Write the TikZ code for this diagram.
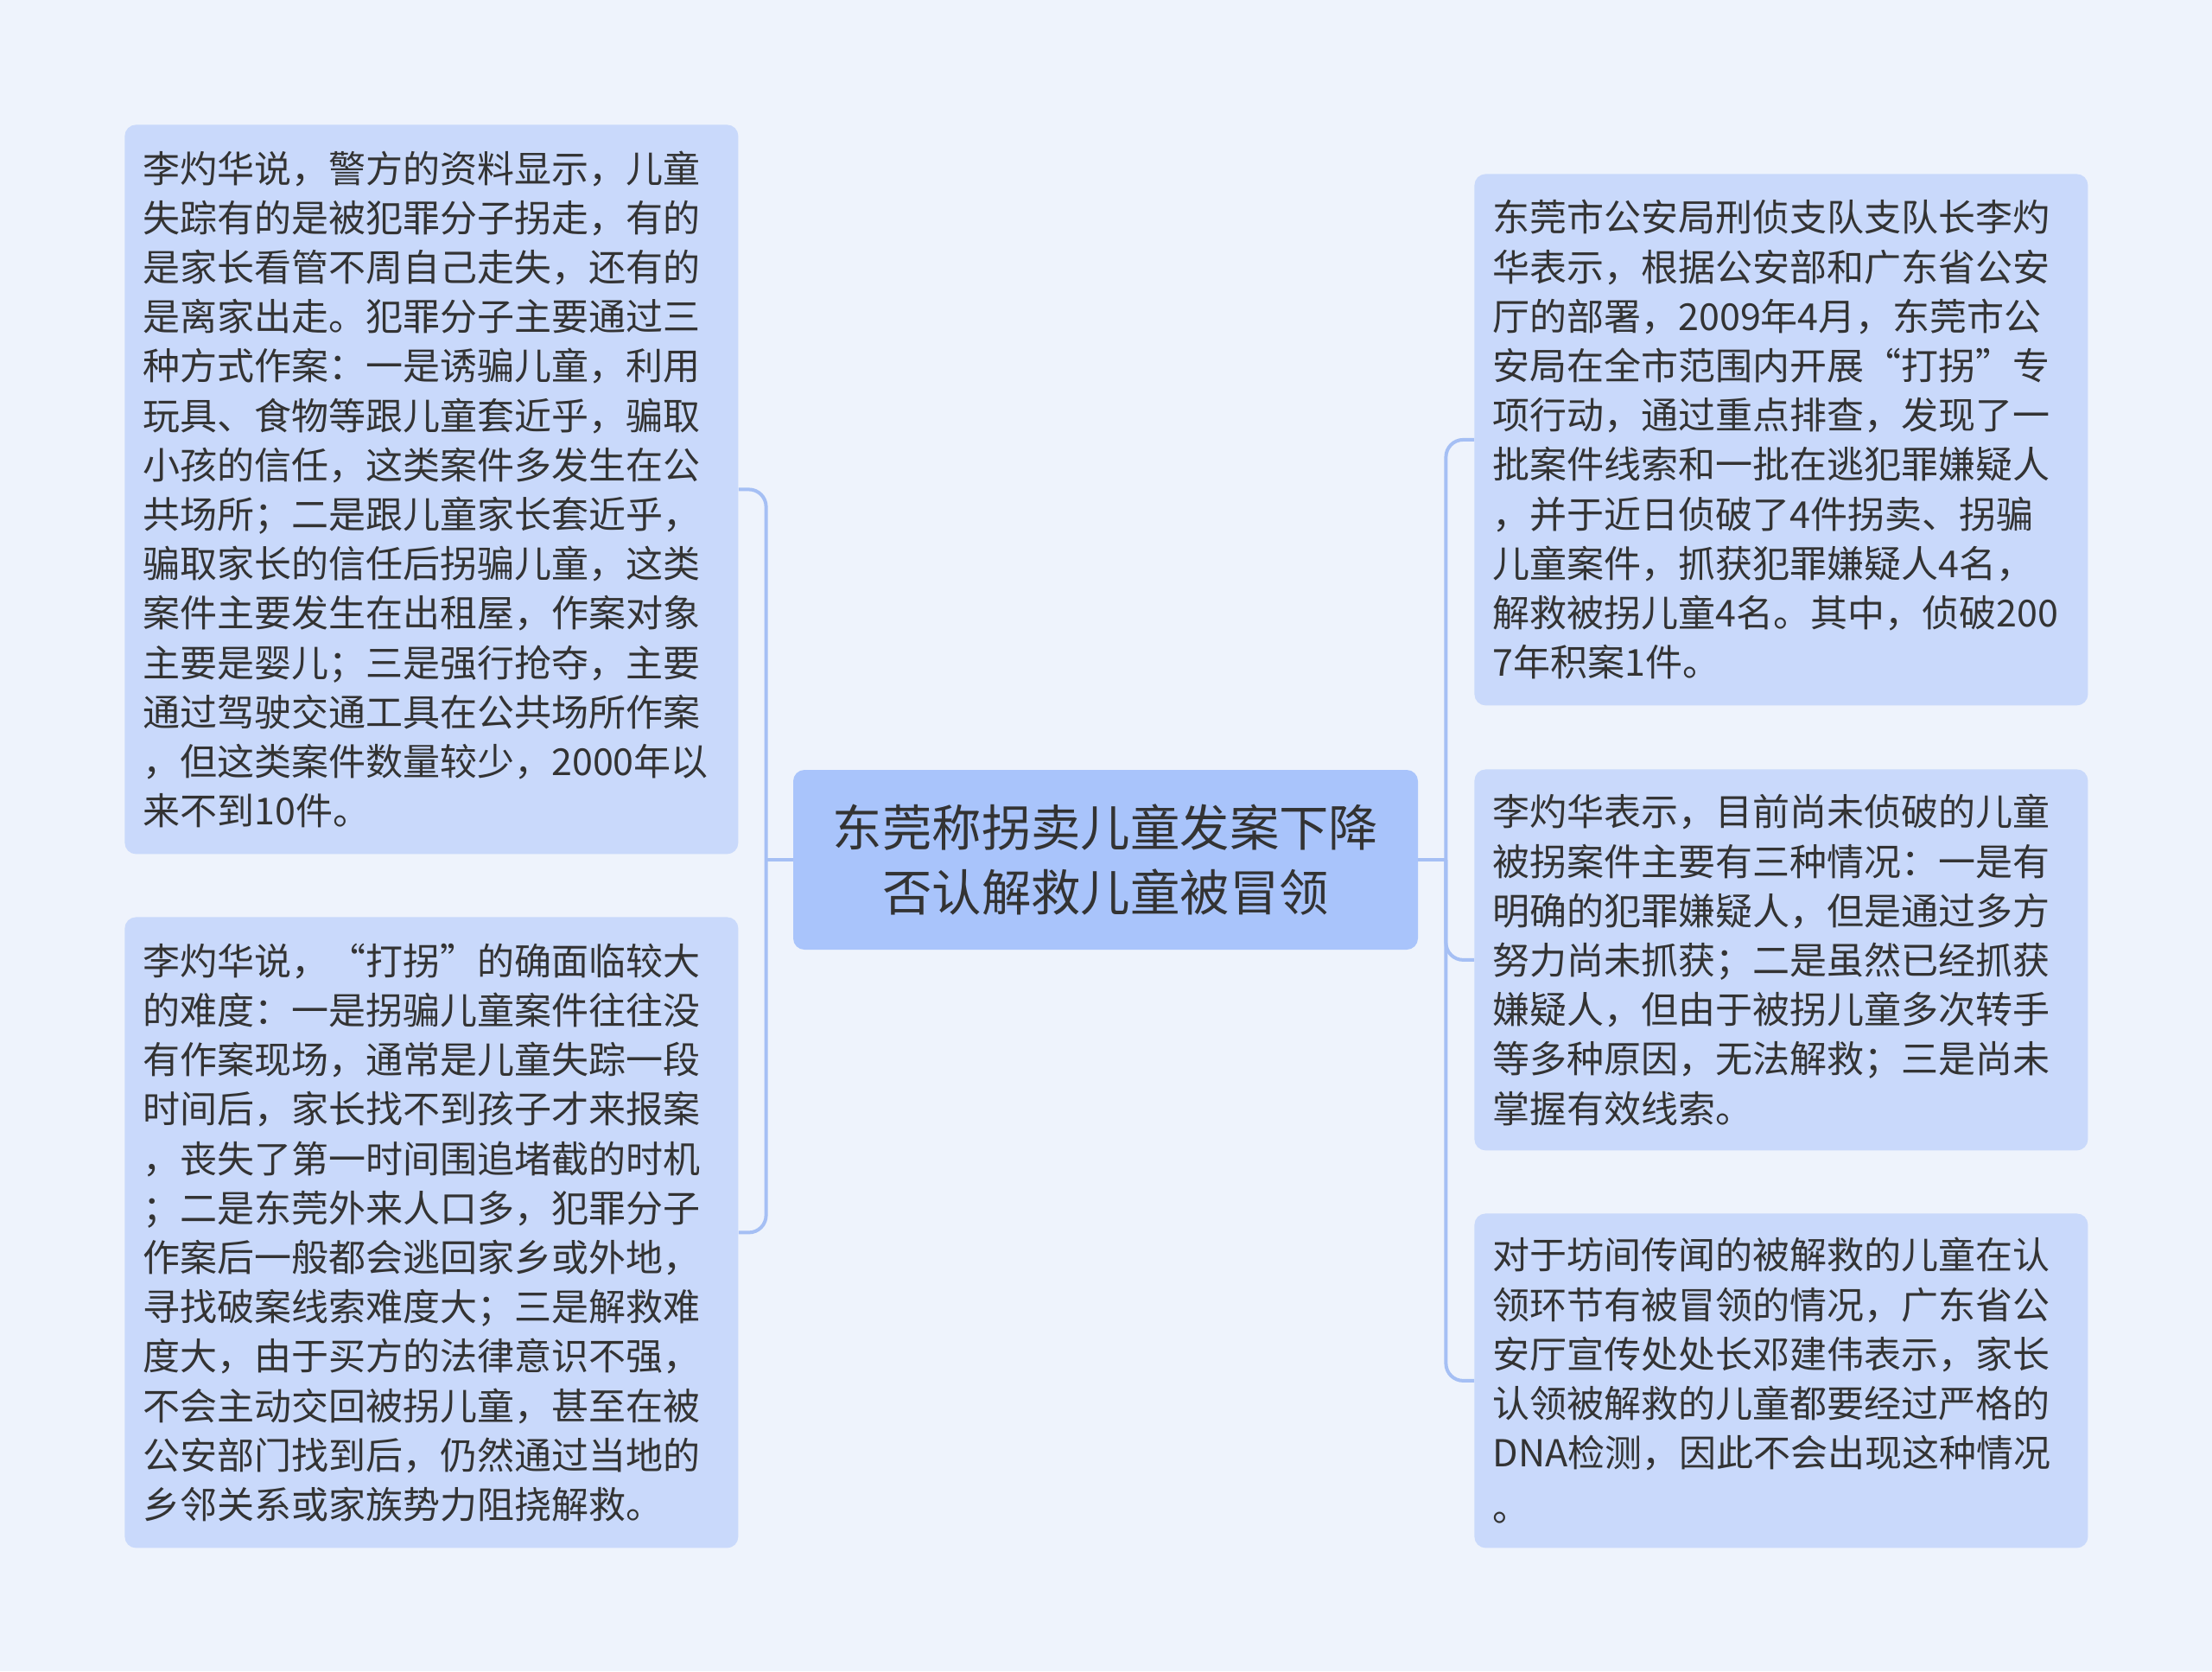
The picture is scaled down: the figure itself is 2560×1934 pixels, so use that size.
\documentclass[tikz,border=0pt]{standalone}
\usepackage{fontspec}
\usepackage{tikz}
\usetikzlibrary{calc}
\newfontfamily\cjk{Noto Sans CJK SC}
\definecolor{Page}{HTML}{EEF3FC}
\definecolor{Leaf}{HTML}{C9D9FB}
\definecolor{Root}{HTML}{A9C4FB}
\definecolor{Link}{HTML}{A5BFF4}
\definecolor{Ink}{HTML}{333333}

\begin{document}
\begin{tikzpicture}[x=0.5pt,y=-0.5pt,
    leaf/.style={anchor=north west,rounded corners=6.5pt,fill=Leaf,text=Ink,
      text width=334pt,inner xsep=10.5pt,inner ysep=0pt,align=left,
      font=\cjk\fontsize{21.5}{28.6}\selectfont},
    topic/.style={rounded corners=6.5pt,fill=Root,text=Ink,minimum width=361.5pt,
      minimum height=104pt,align=center,font=\cjk\fontsize{28.7}{37.6}\selectfont},
    link/.style={Link,line width=2pt,rounded corners=10pt}
  ]
    \fill[Page] (0,0) rectangle (2560,1934);
    \useasboundingbox (0,0) rectangle (2560,1934);
    \node[topic] (root) at (1279.5,995) {东莞称拐卖儿童发案下降\\否认解救儿童被冒领};
    \node[leaf,minimum height=422pt] (l1) at (144,144) {李灼华说，警方的资料显示，儿童\\失踪有的是被犯罪分子拐走，有的\\是家长看管不周自己走失，还有的\\是离家出走。犯罪分子主要通过三\\种方式作案：一是诱骗儿童，利用\\玩具、食物等跟儿童套近乎，骗取\\小孩的信任，这类案件多发生在公\\共场所；二是跟儿童家长套近乎，\\骗取家长的信任后拐骗儿童，这类\\案件主要发生在出租屋，作案对象\\主要是婴儿；三是强行抢夺，主要\\通过驾驶交通工具在公共场所作案\\，但这类案件数量较少，2000年以\\来不到10件。};
    \node[leaf,minimum height=365pt] (l2) at (144,1061) {李灼华说，“打拐”的确面临较大\\的难度：一是拐骗儿童案件往往没\\有作案现场，通常是儿童失踪一段\\时间后，家长找不到孩子才来报案\\，丧失了第一时间围追堵截的时机\\；二是东莞外来人口多，犯罪分子\\作案后一般都会逃回家乡或外地，\\寻找破案线索难度大；三是解救难\\度大，由于买方的法律意识不强，\\不会主动交回被拐儿童，甚至在被\\公安部门找到后，仍然通过当地的\\乡邻关系或家族势力阻挠解救。};
    \node[leaf,minimum height=307.5pt] (r1) at (1706,201) {东莞市公安局刑侦支队支队长李灼\\华表示，根据公安部和广东省公安\\厅的部署，2009年4月，东莞市公\\安局在全市范围内开展“打拐”专\\项行动，通过重点排查，发现了一\\批案件线索和一批在逃犯罪嫌疑人\\，并于近日侦破了4件拐卖、拐骗\\儿童案件，抓获犯罪嫌疑人4名，\\解救被拐儿童4名。其中，侦破200\\7年积案1件。};
    \node[leaf,minimum height=220.5pt] (r2) at (1706,890) {李灼华表示，目前尚未侦破的儿童\\被拐案件主要有三种情况：一是有\\明确的犯罪嫌疑人，但是通过多方\\努力尚未抓获；二是虽然已经抓获\\嫌疑人，但由于被拐儿童多次转手\\等多种原因，无法解救；三是尚未\\掌握有效线索。};
    \node[leaf,minimum height=193.5pt] (r3) at (1706,1404) {对于坊间传闻的被解救的儿童在认\\领环节有被冒领的情况，广东省公\\安厅宣传处处长邓建伟表示，家长\\认领被解救的儿童都要经过严格的\\DNA检测，因此不会出现这种情况\\[3pt]。};
    % branches
    \coordinate (lj) at ($(root.west)+(-31,0)$);
    \coordinate (rj) at ($(root.east)+(32,0)$);
    \draw[link] (root.west) -- (lj);
    \draw[link] (root.east) -- (rj);
    \draw[link] (l1.east) -| (lj) |- (l2.east);
    \draw[link] (r1.west) -| (rj) |- (r3.west);
    \draw[link] (rj) |- (r2.west);
\end{tikzpicture}
\end{document}
